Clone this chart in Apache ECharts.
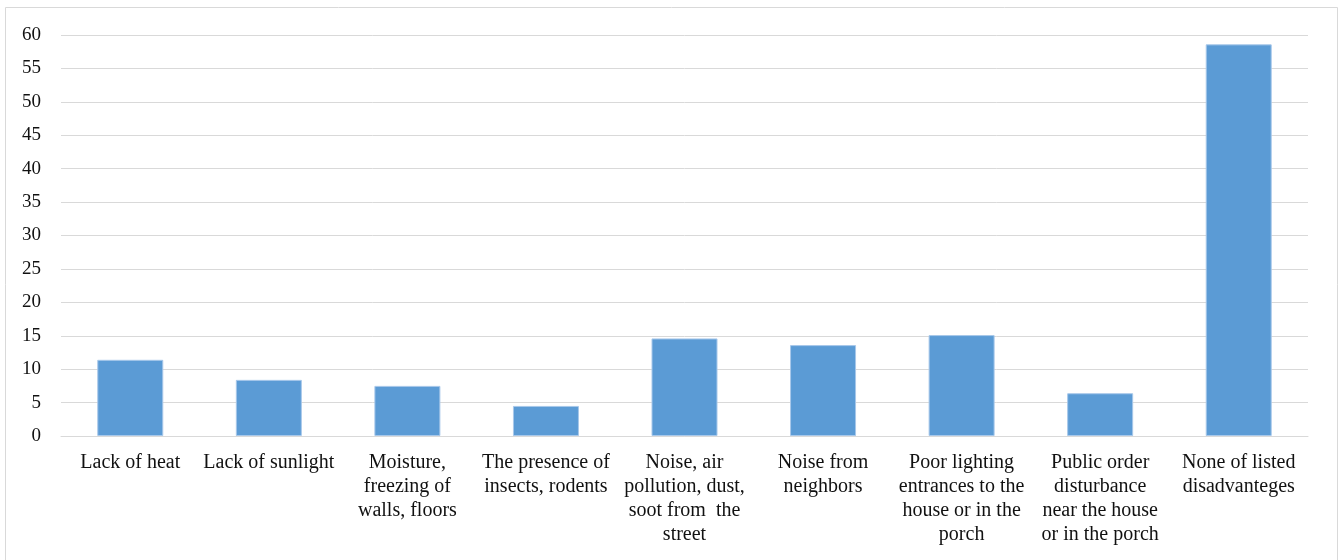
<!DOCTYPE html>
<html>
<head>
<meta charset="utf-8">
<script src="https://cdn.jsdelivr.net/npm/echarts@6/dist/echarts.min.js"></script>
<style>
  html, body { margin: 0; padding: 0; background: #fff; }
  #chart { width: 1339px; height: 560px; }
</style>
</head>
<body>
<div id="chart"></div>
<script>
var categories = [
    "Lack of heat",
    "Lack of sunlight",
    "Moisture,\nfreezing of\nwalls, floors",
    "The presence of\ninsects, rodents",
    "Noise, air\npollution, dust,\nsoot from  the\nstreet",
    "Noise from\nneighbors",
    "Poor lighting\nentrances to the\nhouse or in the\nporch",
    "Public order\ndisturbance\nnear the house\nor in the porch",
    "None of listed\ndisadvanteges"
];
var values = [11.4, 8.4, 7.5, 4.5, 14.6, 13.6, 15.1, 6.4, 58.6];
var yMin = 0, yMax = 60, yStep = 5;

var chart = echarts.init(document.getElementById('chart'));
chart.setOption({
    animation: false,
    textStyle: { fontFamily: 'Liberation Serif' },
    graphic: [{
        type: 'rect',
        shape: { x: 5.5, y: 7.5, width: 1332, height: 560 },
        style: { fill: 'none', stroke: '#d9d9d9', lineWidth: 1 },
        silent: true
    }],
    grid: {
        left: 61,
        right: 31,
        top: 35,
        bottom: 124
    },
    xAxis: {
        type: 'category',
        data: categories,
        z: 5,
        axisLine: { lineStyle: { color: '#d9d9d9', width: 1 } },
        axisTick: { length: 6, lineStyle: { color: '#d9d9d9' } },
        axisLabel: {
            interval: 0,
            margin: 15,
            color: '#111',
            fontSize: 20,
            lineHeight: 24,
            fontFamily: 'Liberation Serif'
        }
    },
    yAxis: {
        type: 'value',
        min: yMin,
        max: yMax,
        interval: yStep,
        axisLine: { show: false },
        axisTick: { show: false },
        splitLine: { lineStyle: { color: '#d9d9d9', width: 1 } },
        axisLabel: {
            margin: 20,
            color: '#111',
            fontSize: 19,
            fontFamily: 'Liberation Serif'
        }
    },
    series: [{
        type: 'bar',
        data: values,
        barWidth: 66,
        itemStyle: {
            color: '#5b9bd5',
            borderColor: '#a8c8ea',
            borderWidth: 1
        }
    }]
});
</script>
</body>
</html>
